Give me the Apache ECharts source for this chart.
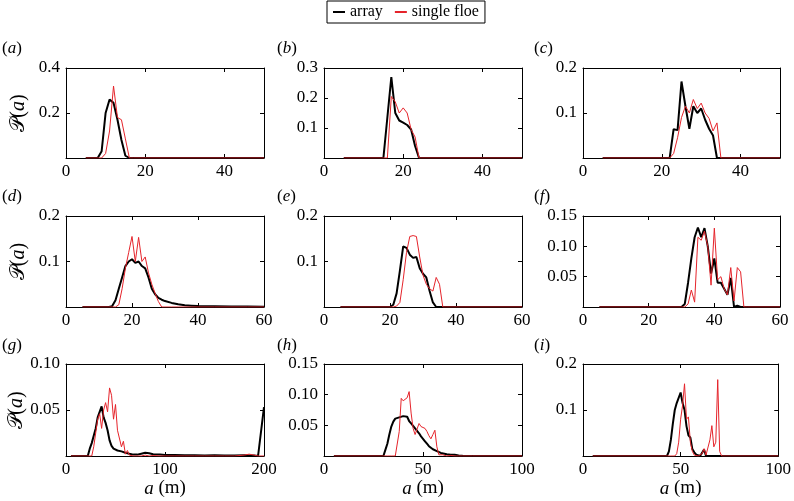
<!DOCTYPE html>
<html>
<head>
<meta charset="utf-8">
<script src="https://cdn.jsdelivr.net/npm/echarts@6/dist/echarts.min.js"></script>
<style>
html,body{margin:0;padding:0;background:#fff;}
#chart{width:794px;height:501px;}
</style>
</head>
<body>
<div id="chart"></div>
<script>
// ---------------- data ----------------
const seriesNames = ['array', 'single floe'];

const aX     = [5, 8, 9, 10, 11, 12, 13, 14, 15, 16, 17, 50];
const aArray = [0, 0, 0.03, 0.2, 0.26, 0.245, 0.17, 0.08, 0.01, 0, 0, 0];
const aFloe  = [0, 0, 0, 0.02, 0.12, 0.32, 0.18, 0.17, 0.085, 0, 0, 0];

const bX     = [5, 15, 16, 17, 18, 19, 20, 21, 22, 23, 24, 25, 50];
const bArray = [0, 0, 0.135, 0.27, 0.15, 0.125, 0.118, 0.11, 0.095, 0.04, 0, 0, 0];
const bFloe  = [0, 0, 0, 0.205, 0.187, 0.15, 0.167, 0.15, 0.095, 0.07, 0, 0, 0];

const cX     = [5, 22, 23, 24, 25, 26, 27, 28, 29, 30, 31, 32, 33, 34, 35, 50];
const cArray = [0, 0, 0.064, 0.062, 0.17, 0.115, 0.065, 0.115, 0.1, 0.11, 0.085, 0.065, 0.05, 0, 0, 0];
const cFloe  = [0, 0, 0.01, 0.045, 0.09, 0.115, 0.1, 0.13, 0.11, 0.122, 0.1, 0.088, 0.06, 0.078, 0, 0];

const dX     = [5, 13, 14, 15, 16, 17, 18, 19, 20, 21, 22, 23, 24, 25, 26, 27, 28, 29, 30, 32, 34, 36, 38, 40, 45, 50, 55, 60];
const dArray = [0, 0, 0.002, 0.015, 0.04, 0.065, 0.09, 0.1, 0.105, 0.097, 0.1, 0.09, 0.085, 0.065, 0.04, 0.028, 0.02, 0.016, 0.013, 0.009, 0.006, 0.004, 0.003, 0.002, 0.0015, 0.001, 0.001, 0.0005];
const dFloe  = [0, 0, 0, 0, 0.005, 0.04, 0.085, 0.12, 0.155, 0.1, 0.153, 0.1, 0.11, 0.075, 0.05, 0.03, 0.012, 0, 0, 0, 0, 0, 0, 0, 0, 0, 0, 0];

const eX     = [5, 20, 21, 22, 23, 24, 25, 26, 27, 28, 29, 30, 31, 32, 33, 34, 35, 36, 37, 60];
const eArray = [0, 0, 0.005, 0.03, 0.08, 0.133, 0.13, 0.115, 0.108, 0.11, 0.085, 0.073, 0.065, 0.035, 0.01, 0, 0, 0, 0, 0];
const eFloe  = [0, 0, 0, 0.002, 0.01, 0.06, 0.12, 0.155, 0.157, 0.155, 0.11, 0.07, 0.05, 0.04, 0.035, 0.065, 0.05, 0, 0, 0];

const fX     = [5, 30, 31, 32, 33, 34, 35, 36, 37, 38, 39, 40, 41, 42, 43, 44, 45, 46, 47, 48, 49, 50, 60];
const fArray = [0, 0, 0.005, 0.04, 0.08, 0.115, 0.131, 0.115, 0.13, 0.1, 0.055, 0.08, 0.04, 0.04, 0.03, 0.02, 0.048, 0, 0.002, 0, 0, 0, 0];
const fFloe  = [0, 0, 0, 0.005, 0.028, 0.008, 0.115, 0.11, 0.125, 0.1, 0.036, 0.13, 0.045, 0.05, 0.03, 0.02, 0.065, 0.01, 0.065, 0.058, 0, 0, 0];

const gX     = [5, 22, 24, 26, 28, 30, 32, 34, 36, 38, 40, 42, 44, 46, 48, 50, 52, 54, 56, 58, 60, 62, 64, 66, 68, 70, 72, 74, 76, 80, 84, 88, 95, 100, 110, 120, 130, 140, 150, 160, 170, 180, 185, 190, 194, 200];
const gArray = [0, 0, 0.008, 0.014, 0.022, 0.03, 0.042, 0.048, 0.054, 0.042, 0.036, 0.028, 0.017, 0.011, 0.008, 0.007, 0.006, 0.0055, 0.005, 0.004, 0.0036, 0.003, 0.0025, 0.002, 0.0015, 0.0015, 0.0015, 0.002, 0.0025, 0.0035, 0.003, 0.002, 0.0015, 0.001, 0.001, 0.0008, 0.0008, 0.0006, 0.0008, 0.0006, 0.0005, 0.0008, 0.0006, 0.0005, 0, 0.053];
const gFloe  = [0, 0, 0, 0, 0.01, 0.025, 0.04, 0.046, 0.03, 0.05, 0.058, 0.048, 0.074, 0.066, 0.04, 0.056, 0.028, 0.03, 0.01, 0.016, 0.002, 0.006, 0.001, 0.003, 0, 0.002, 0, 0.002, 0, 0.001, 0, 0.0005, 0, 0, 0, 0, 0, 0, 0, 0, 0, 0.001, 0.002, 0.001, 0, 0];

const hX     = [5, 30, 31, 32, 33, 34, 35, 36, 37, 38, 39, 40, 41, 42, 43, 44, 45, 46, 47, 48, 49, 50, 51, 52, 53, 54, 55, 56, 57, 58, 59, 60, 62, 64, 66, 68, 70, 75, 100];
const hArray = [0, 0, 0.01, 0.02, 0.035, 0.048, 0.056, 0.061, 0.062, 0.063, 0.062, 0.065, 0.068, 0.064, 0.057, 0.053, 0.049, 0.045, 0.041, 0.037, 0.032, 0.028, 0.024, 0.02, 0.016, 0.014, 0.011, 0.01, 0.008, 0.007, 0.005, 0.004, 0.003, 0.002, 0.002, 0.001, 0.0005, 0, 0];
const hFloe  = [0, 0, 0, 0, 0, 0, 0, 0, 0, 0.04, 0.094, 0.09, 0.088, 0.095, 0.105, 0.07, 0.045, 0.035, 0.038, 0.053, 0.048, 0.045, 0.045, 0.04, 0.033, 0.028, 0.035, 0.042, 0.015, 0.002, 0, 0.002, 0, 0.001, 0, 0, 0, 0, 0];

const iX     = [5, 43, 44, 45, 46, 47, 48, 49, 50, 51, 52, 53, 54, 55, 56, 57, 58, 59, 60, 61, 62, 63, 64, 65, 66, 67, 68, 69, 70, 71, 72, 100];
const iArray = [0, 0, 0.01, 0.035, 0.07, 0.1, 0.115, 0.117, 0.138, 0.115, 0.1, 0.065, 0.045, 0.04, 0.015, 0.008, 0.003, 0.001, 0, 0.002, 0.014, 0, 0, 0, 0, 0, 0, 0, 0, 0, 0, 0];
const iFloe  = [0, 0, 0, 0, 0, 0, 0.005, 0.03, 0.08, 0.11, 0.157, 0.08, 0.085, 0.03, 0.01, 0.002, 0, 0, 0.002, 0.005, 0.016, 0.002, 0.003, 0.035, 0.066, 0.02, 0.03, 0.166, 0.01, 0, 0, 0];

// axis ranges per panel
const panelLetters = ['a','b','c','d','e','f','g','h','i'];
const xMaxes  = [50, 50, 50, 60, 60, 60, 200, 100, 100];
const xSteps  = [20, 20, 20, 20, 20, 20, 100, 50, 50];
const yMaxes  = [0.4, 0.3, 0.2, 0.2, 0.2, 0.15, 0.10, 0.15, 0.2];
const ySteps  = [0.2, 0.1, 0.1, 0.1, 0.1, 0.05, 0.05, 0.05, 0.1];
const yDecimals = [1, 1, 1, 1, 1, 2, 2, 2, 1];

// ---------------- layout ----------------
const colLeft = [66, 324, 583];
const colWidth = [198, 198, 197];
const rowTop = [68, 216, 364];
const rowHeight = [90, 91, 92];
const labelLeft = [2, 277, 534];
const labelTop = [40, 188, 337];
const RED = '#e5242b';
const FONT = 'Liberation Serif';

const panelData = [
  [aX, aArray, aFloe], [bX, bArray, bFloe], [cX, cArray, cFloe],
  [dX, dArray, dFloe], [eX, eArray, eFloe], [fX, fArray, fFloe],
  [gX, gArray, gFloe], [hX, hArray, hFloe], [iX, iArray, iFloe]
];

const grid = [], xAxis = [], yAxis = [], series = [], graphic = [];
const baseLine = {show: true, onZero: false, lineStyle: {color: '#000', width: 1}};
const baseTick = {show: true, inside: true, length: 4, lineStyle: {color: '#000', width: 1}};

panelData.forEach((pd, i) => {
  const r = Math.floor(i / 3), c = i % 3;
  grid.push({left: colLeft[c], top: rowTop[r], width: colWidth[c], height: rowHeight[r], containLabel: false});
  const xm = xMaxes[i], xs = xSteps[i], ym = yMaxes[i], ys = ySteps[i], dec = yDecimals[i];
  const xb = {
    type: 'value', gridIndex: i, position: 'bottom', min: 0, max: xm, interval: xs,
    axisLine: baseLine, axisTick: baseTick, splitLine: {show: false},
    axisLabel: {show: true, fontFamily: FONT, fontSize: 17, color: '#000', margin: 5,
      showMinLabel: true, showMaxLabel: xm % xs === 0, hideOverlap: false,
      formatter: v => String(Math.round(v))}
  };
  if (r === 2) {
    Object.assign(xb, {
      name: '{i|a} (m)', nameLocation: 'middle', nameGap: 23,
      nameTextStyle: {fontFamily: FONT, fontSize: 19, color: '#000',
        rich: {i: {fontFamily: FONT, fontStyle: 'italic', fontSize: 19, color: '#000'}}}
    });
  }
  xAxis.push(xb);
  xAxis.push({
    type: 'value', gridIndex: i, position: 'top', min: 0, max: xm, interval: xs,
    axisLine: baseLine, axisTick: baseTick, splitLine: {show: false}, axisLabel: {show: false}
  });
  const yl = {
    type: 'value', gridIndex: i, position: 'left', min: 0, max: ym, interval: ys,
    axisLine: baseLine, axisTick: baseTick, splitLine: {show: false},
    axisLabel: {show: true, fontFamily: FONT, fontSize: 17, color: '#000', margin: 6,
      showMaxLabel: true, hideOverlap: false,
      formatter: v => (Math.abs(v) < 1e-9 ? '' : v.toFixed(dec))}
  };
  if (c === 0) {
    Object.assign(yl, {
      name: '{s|𝒫}({i|a})', nameLocation: 'middle', nameGap: 37, nameRotate: 90,
      nameTextStyle: {fontFamily: FONT, fontSize: 20, color: '#000',
        rich: {s: {fontSize: 20, color: '#000'},
               i: {fontFamily: FONT, fontStyle: 'italic', fontSize: 20, color: '#000'}}}
    });
  }
  yAxis.push(yl);
  yAxis.push({
    type: 'value', gridIndex: i, position: 'right', min: 0, max: ym, interval: ys,
    axisLine: baseLine, axisTick: baseTick, splitLine: {show: false}, axisLabel: {show: false}
  });
  const [xs_, arr, floe] = pd;
  series.push({
    type: 'line', name: seriesNames[0], xAxisIndex: 2 * i, yAxisIndex: 2 * i,
    data: xs_.map((v, k) => [v, arr[k]]), showSymbol: false, symbol: 'none',
    lineStyle: {color: '#000', width: 2}, itemStyle: {color: '#000'}, z: 2, clip: true
  });
  series.push({
    type: 'line', name: seriesNames[1], xAxisIndex: 2 * i, yAxisIndex: 2 * i,
    data: xs_.map((v, k) => [v, floe[k]]), showSymbol: false, symbol: 'none',
    lineStyle: {color: RED, width: 1}, itemStyle: {color: RED}, z: 3, clip: true
  });
  graphic.push({
    type: 'text', left: labelLeft[c], top: labelTop[r],
    style: {text: '({i|' + panelLetters[i] + '})', fontFamily: FONT, fontSize: 17, fill: '#000',
      rich: {i: {fontFamily: FONT, fontStyle: 'italic', fontSize: 17, fill: '#000', color: '#000'}}}
  });
});

const chart = echarts.init(document.getElementById('chart'), null, {renderer: 'canvas'});
chart.setOption({
  animation: false,
  backgroundColor: '#fff',
  textStyle: {fontFamily: FONT, color: '#000'},
  legend: {
    data: seriesNames, left: 327, top: 1, orient: 'horizontal',
    padding: [3, 6, 3, 6], itemGap: 12, itemWidth: 12, itemHeight: 2, itemTextGap: 4,
    icon: 'rect', borderColor: '#000', borderWidth: 1, borderRadius: 0,
    textStyle: {fontFamily: FONT, fontSize: 16, color: '#000'}
  },
  grid, xAxis, yAxis, series, graphic
});
</script>
</body>
</html>
